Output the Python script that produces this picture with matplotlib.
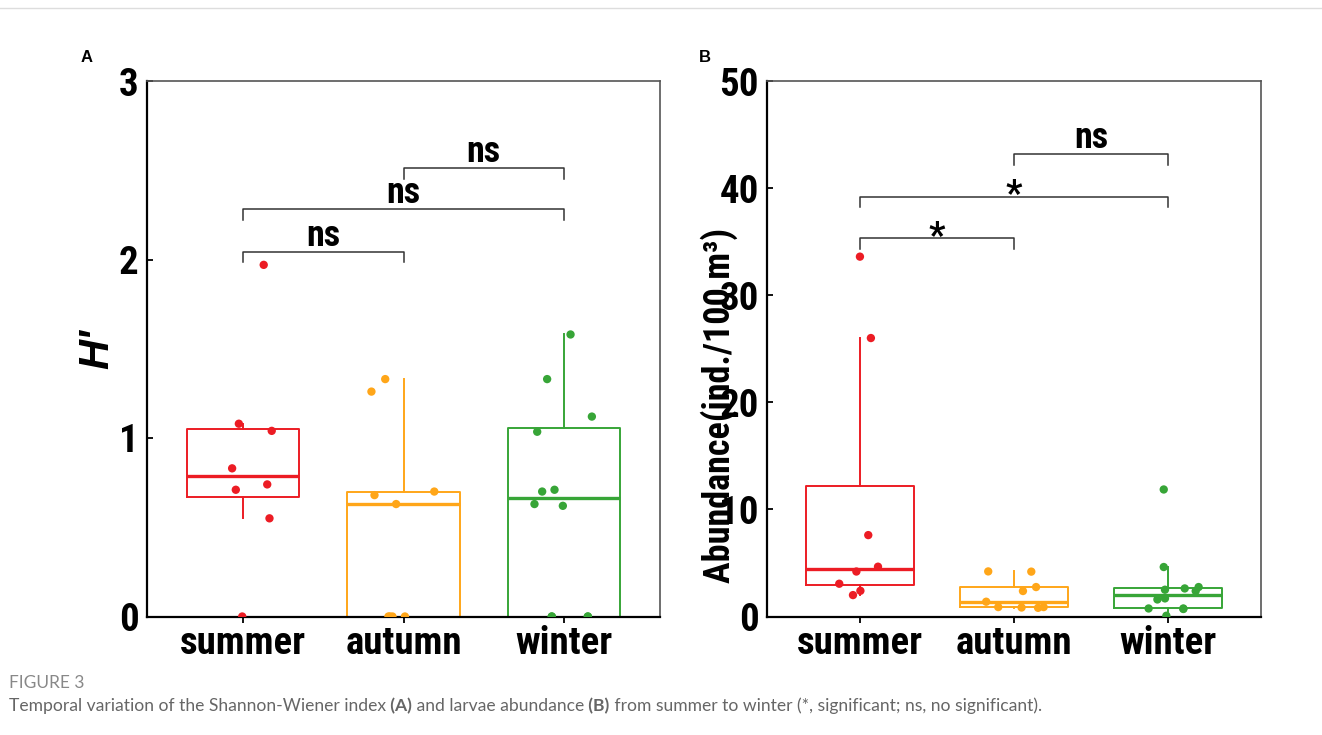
"""
季节变化箱线图: (A) Shannon-Wiener 指数, (B) 仔鱼丰度
"""

import matplotlib
matplotlib.use('Agg')
import matplotlib.pyplot as plt
from matplotlib import font_manager
from matplotlib.lines import Line2D
import numpy as np


def pick_family(candidates, weight=700):
    """返回第一个装有粗体的字体族"""
    for name in candidates:
        for f in font_manager.fontManager.ttflist:
            if f.name == name and (f.weight if isinstance(f.weight, int) else 400) >= weight:
                return name
    return 'Liberation Sans'


NARROW = pick_family(['Arial Narrow', 'Liberation Sans Narrow', 'Roboto Condensed',
                      'Archivo Narrow', 'PT Sans Narrow', 'Barlow Semi Condensed'])
plt.rcParams['font.family'] = [NARROW, 'Liberation Sans', 'DejaVu Sans']

seasons = ['summer', 'autumn', 'winter']
season_colors = ['#EC1C24', '#FFA619', '#37A537']

# 图A: Shannon-Wiener 指数 H'
h_summer = [1.97, 1.08, 1.04, 0.83, 0.71, 0.74, 0.55, 0.0]
h_autumn = [1.26, 1.33, 0.68, 0.63, 0.70, 0.0, 0.0, 0.0, 0.0]
h_winter = [1.58, 1.33, 1.12, 1.035, 0.70, 0.71, 0.63, 0.62, 0.0, 0.0, 0.0, 0.0]
# 抖动偏移 (类别间距为1)
h_summer_jit = [0.128, -0.027, 0.178, -0.069, -0.046, 0.150, 0.164, -0.006]
h_autumn_jit = [-0.200, -0.114, -0.181, -0.046, 0.192, -0.094, -0.069, 0.009, -0.085]
h_winter_jit = [0.042, -0.104, 0.175, -0.166, -0.135, -0.058, -0.183, -0.006, -0.075, 0.150, -0.075, 0.150]

# 图B: 丰度 (ind./100 m3)
a_summer = [33.6, 26.0, 7.6, 4.65, 4.2, 3.06, 2.4, 2.0]
a_autumn = [4.21, 4.19, 2.75, 2.38, 1.38, 0.88, 0.84, 0.81, 0.88]
a_winter = [11.86, 4.62, 2.5, 2.62, 2.75, 2.38, 1.59, 1.69, 0.75, 0.75, 0.07, 0.70]
a_summer_jit = [0.002, 0.073, 0.056, 0.119, -0.021, -0.132, 0.005, -0.043]
a_autumn_jit = [-0.167, 0.112, 0.143, 0.058, -0.180, -0.102, 0.049, 0.156, 0.192]
a_winter_jit = [-0.030, -0.030, -0.022, 0.106, 0.196, 0.177, -0.071, -0.022, -0.128, 0.097, -0.013, 0.097]

# 显著性标记
h_pairs = [(0, 1), (0, 2), (1, 2)]
h_heights = [2.043, 2.281, 2.511]
h_labels = ['ns', 'ns', 'ns']
a_pairs = [(0, 1), (0, 2), (1, 2)]
a_heights = [35.3, 39.2, 43.2]
a_labels = ['*', '*', 'ns']


def draw_panel(ax, groups, jitters, ymax, yticks, pairs, heights, labels, tip):
    for i, (vals, jit, c) in enumerate(zip(groups, jitters, season_colors)):
        ax.boxplot([vals], positions=[i], widths=0.7, showfliers=False, showcaps=False,
                   boxprops=dict(color=c, lw=1.4),
                   whiskerprops=dict(color=c, lw=1.4),
                   medianprops=dict(color=c, lw=2.4))
        ax.scatter(i + np.array(jit), vals, s=36, color=c, edgecolors='none', zorder=3)

    for (a, b), h, lab in zip(pairs, heights, labels):
        ax.plot([a, a, b, b], [h - tip, h, h, h - tip], color='#333333', lw=1.1, zorder=4)
        off = 4.5 if lab == 'ns' else -6
        ax.annotate(lab, xy=((a + b) / 2, h), xytext=(0, off), textcoords='offset points',
                    ha='center', va='baseline', fontsize=26, fontweight='bold')

    ax.set_xlim(-0.6, 2.6)
    ax.set_ylim(0, ymax)
    ax.set_xticks(range(3))
    ax.set_xticklabels(seasons, fontsize=28, fontweight='bold')
    ax.set_yticks(yticks)
    ax.set_yticklabels([str(t) for t in yticks], fontsize=28, fontweight='bold')
    ax.tick_params(axis='y', direction='in', length=4, width=1.3, pad=6)
    ax.tick_params(axis='x', direction='out', length=4, width=1.3, pad=2)
    for s in ['left', 'bottom']:
        ax.spines[s].set_linewidth(1.6)
        ax.spines[s].set_color('black')
    for s in ['top', 'right']:
        ax.spines[s].set_linewidth(1.2)
        ax.spines[s].set_color('#555555')


fig = plt.figure(figsize=(13.22, 7.35), dpi=100)
axA = fig.add_axes([147 / 1322, 118.5 / 735, 513 / 1322, 535.5 / 735])
axB = fig.add_axes([767 / 1322, 118.5 / 735, 494 / 1322, 535.5 / 735])

draw_panel(axA, [h_summer, h_autumn, h_winter], [h_summer_jit, h_autumn_jit, h_winter_jit],
           3, [0, 1, 2, 3], h_pairs, h_heights, h_labels, 0.058)
draw_panel(axB, [a_summer, a_autumn, a_winter], [a_summer_jit, a_autumn_jit, a_winter_jit],
           50, [0, 10, 20, 30, 40, 50], a_pairs, a_heights, a_labels, 1.0)

axA.text(-0.097, 0.5, "H'", transform=axA.transAxes, rotation=90, ha='center', va='center',
         fontsize=30, fontweight='bold', fontstyle='italic', family=['Liberation Sans', 'DejaVu Sans'])
axB.text(-0.097, 0.395, 'Abundance(ind./100 m³)', transform=axB.transAxes, rotation=90,
         ha='center', va='center', fontsize=26, fontweight='bold')

fig.text(87 / 1322, 1 - 57 / 735, 'A', ha='center', va='center', fontsize=12,
         fontweight='bold', family=['Liberation Sans', 'DejaVu Sans'])
fig.text(705 / 1322, 1 - 57 / 735, 'B', ha='center', va='center', fontsize=12,
         fontweight='bold', family=['Liberation Sans', 'DejaVu Sans'])

# 图注
fig.add_artist(Line2D([0, 1], [1 - 8 / 735] * 2, color='#dddddd', lw=1))
cap = fig.add_axes([0, 0, 1, 1])
cap.set_axis_off()
cap.set_xlim(0, 1322)
cap.set_ylim(735, 0)
cap.text(9, 688, 'FIGURE 3', fontsize=12.5, color='#888888', family=['Lato', 'DejaVu Sans'],
         va='baseline')
pieces = [('Temporal variation of the Shannon-Wiener index', 'normal'), (' (A)', 'bold'),
          (' and larvae abundance', 'normal'), (' (B)', 'bold'),
          (' from summer to winter (*, significant; ns, no significant).', 'normal')]
prev = None
for txt, w in pieces:
    kw = dict(fontsize=12.6, color='#666666', fontweight=w, family=['Lato', 'DejaVu Sans'])
    if prev is None:
        prev = cap.text(9, 711, txt, va='baseline', **kw)
    else:
        prev = cap.annotate(txt, xy=(1, 0), xycoords=prev, va='bottom', ha='left', **kw)

fig.savefig('out.png', dpi=100)
